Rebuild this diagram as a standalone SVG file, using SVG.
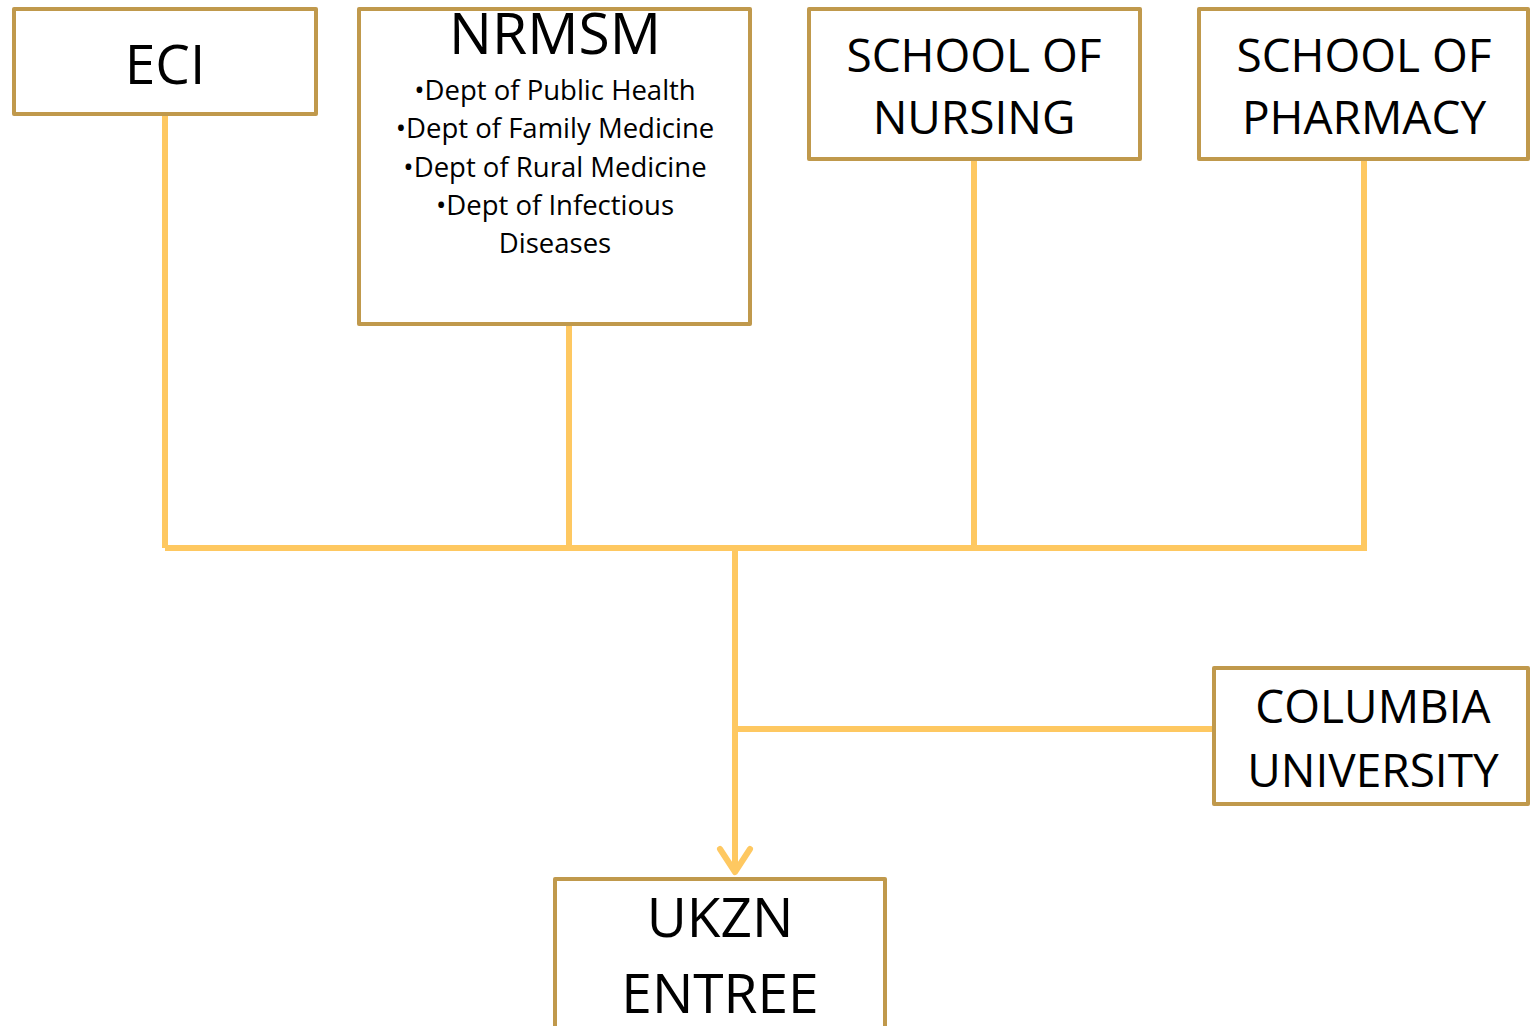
<svg xmlns="http://www.w3.org/2000/svg" width="1530" height="1026" viewBox="0 0 1530 1026">
<style>
.box{fill:#fff;stroke:#C0994C;stroke-width:4;stroke-linejoin:round}
.t{font-family:"Open Sans","Noto Sans",sans-serif;fill:#000;text-anchor:middle}
.big{font-size:55px}
.mid{font-size:46px}
.sm{font-size:27.5px}
.c{stroke:#FEC861;stroke-width:6;fill:none}
</style>
<rect width="1530" height="1026" fill="#fff"/>
<g id="connectors">
<line class="c" x1="165" y1="114" x2="165" y2="548"/>
<line class="c" x1="165" y1="548" x2="1367" y2="548"/>
<line class="c" x1="569" y1="324" x2="569" y2="548"/>
<line class="c" x1="974" y1="159" x2="974" y2="548"/>
<line class="c" x1="1364" y1="159" x2="1364" y2="548"/>
<line class="c" x1="735" y1="548" x2="735" y2="870"/>
<line class="c" x1="735" y1="729" x2="1214" y2="729"/>
<polyline class="c" points="720,849 735,872 750,849" stroke-linecap="round" stroke-linejoin="round"/>
</g>
<g id="eci">
<rect class="box" x="14" y="9" width="302" height="105"/>
<text class="t big" x="165" y="84">ECI</text>
</g>
<g id="nrmsm">
<rect class="box" x="359" y="9" width="391" height="315"/>
<text class="t big" x="555" y="54" style="font-size:57px">NRMSM</text>
<text class="t sm" x="555" y="100">•Dept of Public Health</text>
<text class="t sm" x="555" y="138">•Dept of Family Medicine</text>
<text class="t sm" x="555" y="177">•Dept of Rural Medicine</text>
<text class="t sm" x="555" y="215">•Dept of Infectious</text>
<text class="t sm" x="555" y="253">Diseases</text>
</g>
<g id="nursing">
<rect class="box" x="809" y="9" width="331" height="150"/>
<text class="t mid" x="974" y="72">SCHOOL OF</text>
<text class="t mid" x="974" y="134">NURSING</text>
</g>
<g id="pharmacy">
<rect class="box" x="1199" y="9" width="329" height="150"/>
<text class="t mid" x="1364" y="72">SCHOOL OF</text>
<text class="t mid" x="1364" y="134">PHARMACY</text>
</g>
<g id="columbia">
<rect class="box" x="1214" y="668" width="314" height="136"/>
<text class="t mid" x="1373" y="723">COLUMBIA</text>
<text class="t mid" x="1373" y="787">UNIVERSITY</text>
</g>
<g id="ukzn">
<rect class="box" x="555" y="879" width="330" height="160"/>
<text class="t big" x="720" y="937">UKZN</text>
<text class="t big" x="720" y="1013">ENTREE</text>
</g>
</svg>
